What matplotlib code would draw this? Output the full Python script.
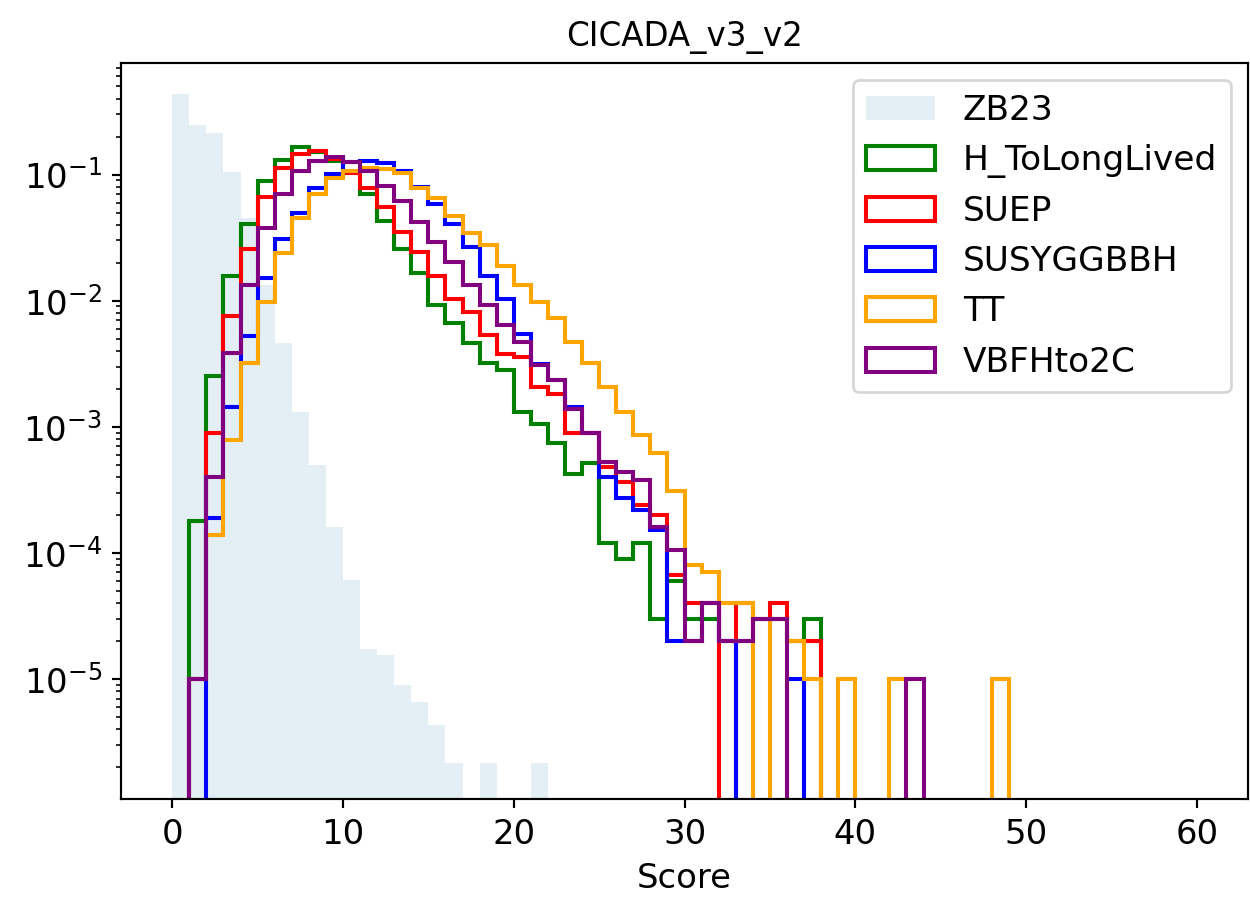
import numpy as np
import matplotlib
matplotlib.use('Agg')
import matplotlib.pyplot as plt

# bins of width 1 from 0 to 60, values are normalised bin heights
edges = np.arange(0, 61)
centers = edges[:-1] + 0.5

zb23 = [0.438, 0.245, 0.212, 0.104, 0.045, 0.0132, 0.00458, 0.0013, 4.95e-4, 1.6e-4,
        6.1e-5, 1.73e-5, 1.55e-5, 9.0e-6, 6.6e-6, 4.33e-6, 2.16e-6, 0, 2.16e-6, 0,
        0, 2.16e-6]

h_tolonglived = [0, 1.78e-4, 2.51e-3, 0.0158, 0.0409, 0.0896, 0.1315, 0.1667, 0.150, 0.128,
                 0.102, 0.0707, 0.0432, 0.0259, 0.0167, 0.00916, 0.00661, 0.00459, 0.00318, 0.0028,
                 0.0013, 0.00106, 0.00074, 0.000421, 0.000514, 0.000119, 8.9e-5, 0.000119, 3e-5, 6e-5,
                 3e-5, 3e-5, 2e-5, 2e-5, 3e-5, 3e-5, 2e-5, 3e-5]

suep = [0, 1e-5, 8.9e-4, 7.5e-3, 0.0259, 0.0658, 0.1136, 0.1466, 0.1549, 0.134,
        0.1037, 0.0785, 0.0551, 0.0349, 0.0242, 0.0158, 0.0103, 0.00812, 0.00531, 0.0038,
        0.00357, 0.00207, 0.00183, 0.000889, 0.0009, 0.000478, 0.000363, 0.000239, 0.000199, 6.7e-5,
        4e-5, 4e-5, 0, 4e-5, 3e-5, 4e-5, 2e-5, 2e-5]

susyggbbh = [0, 0, 1.88e-4, 1.43e-3, 5.21e-3, 0.015, 0.0311, 0.05, 0.0788, 0.1013,
             0.125, 0.129, 0.1229, 0.1076, 0.0803, 0.0586, 0.0407, 0.0266, 0.0158, 0.0103,
             0.00546, 0.00317, 0.00234, 0.00143, 0.0009, 0.000398, 0.000271, 0.000218, 0.000151, 2e-5,
             2e-5, 4e-5, 2e-5, 0, 0, 0, 1e-5]

tt = [0, 1e-5, 1.38e-4, 7.8e-4, 3.18e-3, 9.68e-3, 0.0237, 0.0456, 0.0707, 0.0947,
      0.1076, 0.1136, 0.1116, 0.1037, 0.0788, 0.0646, 0.0473, 0.0347, 0.0274, 0.019,
      0.0132, 0.00968, 0.00723, 0.00467, 0.00318, 0.00206, 0.0013, 0.000857, 0.000617, 0.000308,
      8e-5, 7e-5, 4e-5, 4e-5, 0, 3e-5, 2e-5, 1e-5, 0, 1e-5,
      0, 0, 1e-5, 0, 0, 0, 0, 0, 1e-5]

vbfhto2c = [0, 1e-5, 3.98e-4, 3.82e-3, 0.0132, 0.038, 0.0707, 0.1076, 0.1291, 0.137,
            0.125, 0.1076, 0.0818, 0.0622, 0.0419, 0.029, 0.0202, 0.0132, 0.00916, 0.00637,
            0.00469, 0.00307, 0.00234, 0.00138, 0.0009, 0.000523, 0.000436, 0.000377, 0.00016, 0.000105,
            2e-5, 4e-5, 2e-5, 2e-5, 3e-5, 3e-5, 0, 0, 0, 0,
            0, 0, 0, 1e-5]

signals = ['H_ToLongLived', 'SUEP', 'SUSYGGBBH', 'TT', 'VBFHto2C']
sig_values = [h_tolonglived, suep, susyggbbh, tt, vbfhto2c]
sig_colors = ['green', 'red', 'blue', 'orange', 'purple']


def pad(v):
    return np.array(list(v) + [0] * (len(centers) - len(v)))


fig = plt.figure(figsize=(1250 / 195, 904 / 195), dpi=195)
ax = fig.add_axes([0.0968, 0.1162, 0.9016, 0.8144])

ax.hist(centers, bins=edges, weights=pad(zb23), histtype='stepfilled',
        color='tab:blue', alpha=0.12, label='ZB23', log=True)
for name, vals, col in zip(signals, sig_values, sig_colors):
    ax.hist(centers, bins=edges, weights=pad(vals), histtype='step',
            color=col, label=name, log=True, lw=1.5)

ax.set_xlim(-3, 63)
ax.set_ylim(1.12e-6, 0.77)
ax.tick_params(labelsize=12.5)
ax.set_xlabel('Score', fontsize=12.5)
ax.set_title('CICADA_v3_v2', fontsize=12)
ax.legend(loc='upper right', fontsize=12.7)

fig.savefig('out.png', dpi=195)
